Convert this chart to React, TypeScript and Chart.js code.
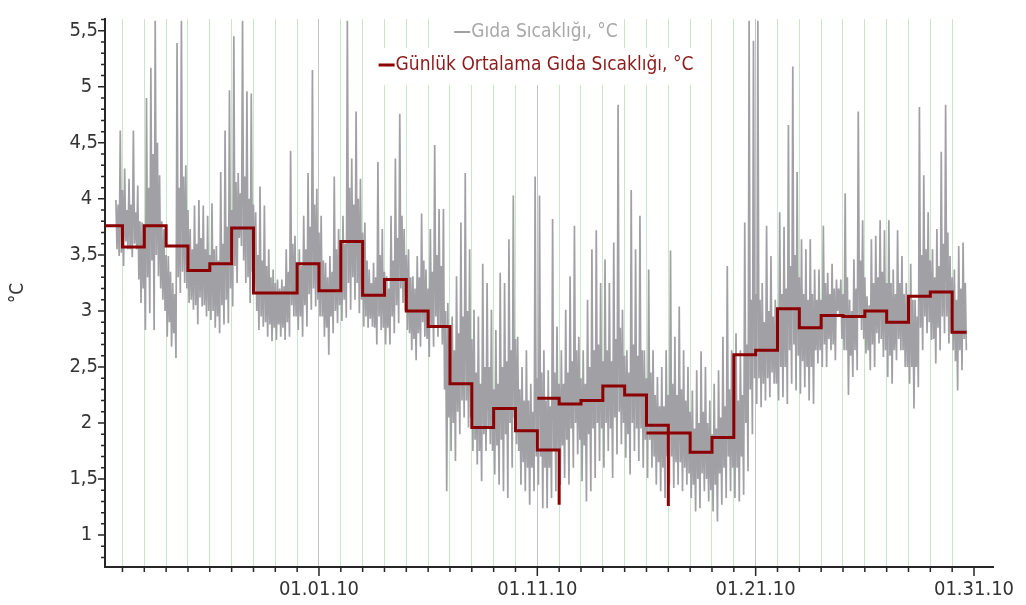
import { useEffect, useRef } from "react";
import { Chart, registerables } from "chart.js";

Chart.register(...registerables);

// ---- data ----
// x values are days counted from 01.01.10 (0 = Jan 1)
const labeledDays = [0, 10, 20, 30];
const labeledDayTexts = ["01.01.10", "01.11.10", "01.21.10", "01.31.10"];

// raw food temperature samples, one every 0.05 day starting at grayStartDay
// (each row of four: spike high, band low, band high, dip low)
const grayStartDay = -9.3;
const grayStepDays = 0.05;
const grayValues = [
  3.99, 3.55, 3.95, 3.49,  4.61, 3.52, 4.08, 3.40,  4.27, 3.62, 3.90, 3.55,  4.18, 3.55, 3.95, 3.48,
  4.61, 3.60, 3.88, 3.55,  4.12, 3.28, 3.80, 3.07,  3.79, 3.20, 3.60, 2.83,  4.90, 3.30, 4.10, 2.98,
  5.17, 3.45, 4.40, 2.83,  5.59, 3.50, 4.50, 3.31,  4.21, 3.20, 3.80, 3.10,  3.73, 3.00, 3.50, 2.77,
  3.49, 2.90, 3.35, 2.68,  3.25, 2.80, 3.15, 2.58,  5.39, 3.30, 4.10, 3.16,  5.59, 3.35, 4.20, 3.25,
  4.30, 3.20, 3.90, 3.07,  3.73, 3.10, 3.55, 3.01,  3.94, 3.05, 3.60, 2.88,  3.99, 3.12, 3.65, 3.04,
  3.94, 3.05, 3.55, 2.95,  3.85, 3.00, 3.50, 2.92,  3.96, 3.00, 3.55, 2.85,  3.58, 2.95, 3.45, 2.80,
  4.24, 3.05, 3.60, 2.88,  4.61, 3.10, 3.75, 2.89,  4.97, 3.20, 3.90, 3.04,  5.45, 3.40, 4.15, 3.25,
  4.23, 3.65, 4.05, 3.58,  5.59, 3.45, 4.20, 3.25,  4.96, 3.30, 4.00, 3.07,  4.94, 3.35, 3.95, 3.16,
  3.88, 3.00, 3.50, 2.83,  4.11, 2.95, 3.45, 2.86,  3.94, 2.90, 3.40, 2.77,  3.55, 2.88, 3.30, 2.73,
  3.37, 2.85, 3.25, 2.74,  3.28, 2.88, 3.20, 2.77,  3.28, 2.85, 3.22, 2.74,  3.55, 2.90, 3.35, 2.77,
  4.43, 3.05, 3.60, 2.95,  3.67, 2.95, 3.40, 2.83,  3.55, 2.95, 3.40, 2.77,  3.85, 3.05, 3.55, 2.86,
  4.23, 3.15, 3.75, 3.01,  5.15, 3.20, 3.95, 3.04,  4.09, 3.10, 3.70, 2.95,  3.85, 2.95, 3.45, 2.77,
  3.43, 2.85, 3.30, 2.61,  3.49, 2.95, 3.35, 2.80,  4.20, 3.00, 3.55, 2.89,  3.73, 3.05, 3.50, 2.91,
  3.85, 3.10, 3.60, 2.94,  5.59, 3.25, 4.10, 3.01,  4.36, 3.30, 3.95, 3.10,  4.78, 3.25, 4.00, 2.98,
  4.18, 3.10, 3.70, 2.86,  3.79, 2.95, 3.45, 2.85,  3.37, 2.93, 3.25, 2.86,  3.43, 2.85, 3.30, 2.70,
  4.33, 2.95, 3.50, 2.83,  3.73, 2.85, 3.35, 2.70,  3.31, 2.85, 3.20, 2.70,  3.85, 2.95, 3.45, 2.80,
  4.36, 3.05, 3.65, 2.89,  4.76, 3.20, 3.85, 3.07,  3.73, 3.00, 3.50, 2.83,  3.55, 2.80, 3.30, 2.65,
  3.31, 2.75, 3.20, 2.56,  3.49, 2.80, 3.30, 2.68,  3.87, 2.90, 3.45, 2.77,  3.37, 2.75, 3.20, 2.59,
  3.73, 2.85, 3.35, 2.68,  4.48, 2.95, 3.50, 2.77,  3.91, 2.85, 3.40, 2.70,  3.91, 2.30, 3.00, 1.39,
  3.07, 2.05, 2.75, 1.75,  2.95, 2.00, 2.65, 1.66,  3.31, 2.10, 2.80, 1.90,  3.79, 2.20, 2.95, 2.05,
  4.23, 2.20, 3.00, 1.96,  3.55, 2.05, 2.75, 1.75,  3.01, 1.85, 2.45, 1.63,  2.95, 1.75, 2.35, 1.48,
  3.42, 1.90, 2.50, 1.75,  3.25, 1.95, 2.50, 1.81,  3.01, 1.75, 2.30, 1.54,  2.83, 1.80, 2.35, 1.45,
  3.34, 1.85, 2.50, 1.39,  3.25, 1.90, 2.55, 1.33,  3.64, 2.00, 2.65, 1.60,  4.03, 2.05, 2.75, 1.81,
  2.77, 1.75, 2.30, 1.45,  2.50, 1.65, 2.20, 1.39,  2.65, 1.60, 2.20, 1.27,  2.35, 1.60, 2.10, 1.39,
  4.20, 1.70, 2.40, 1.45,  4.03, 1.70, 2.45, 1.24,  2.65, 1.60, 2.20, 1.24,  2.47, 1.60, 2.15, 1.33,
  3.82, 1.75, 2.45, 1.39,  2.86, 1.75, 2.35, 1.45,  2.65, 1.80, 2.35, 1.51,  3.01, 1.85, 2.45, 1.45,
  3.31, 1.95, 2.55, 1.60,  3.76, 2.00, 2.65, 1.72,  2.77, 1.85, 2.40, 1.48,  2.65, 1.80, 2.35, 1.30,
  3.10, 1.90, 2.50, 1.39,  3.55, 1.95, 2.65, 1.51,  3.72, 2.00, 2.70, 1.66,  3.25, 1.95, 2.55, 1.60,
  3.46, 2.00, 2.65, 1.75,  3.25, 1.95, 2.55, 1.51,  3.61, 2.05, 2.75, 1.72,  4.84, 2.10, 2.85, 1.81,
  3.01, 2.00, 2.60, 1.69,  2.65, 1.90, 2.45, 1.54,  4.08, 2.00, 2.70, 1.75,  3.55, 1.95, 2.60, 1.66,
  3.85, 1.95, 2.65, 1.60,  2.65, 1.85, 2.40, 1.51,  3.37, 1.85, 2.45, 1.60,  2.65, 1.70, 2.25, 1.45,
  2.41, 1.65, 2.15, 1.39,  2.50, 1.60, 2.15, 1.33,  2.65, 1.70, 2.25, 1.45,  3.54, 1.70, 2.35, 1.42,
  2.77, 1.65, 2.25, 1.45,  3.04, 1.65, 2.30, 1.39,  2.65, 1.60, 2.20, 1.45,  2.50, 1.55, 2.10, 1.33,
  2.29, 1.45, 1.95, 1.21,  2.47, 1.50, 2.00, 1.24,  2.64, 1.55, 2.10, 1.39,  2.50, 1.50, 2.00, 1.30,
  2.20, 1.40, 1.90, 1.21,  2.35, 1.45, 1.95, 1.12,  2.47, 1.55, 2.05, 1.27,  2.77, 1.60, 2.15, 1.33,
  3.40, 1.70, 2.30, 1.39,  2.65, 1.60, 2.15, 1.33,  2.80, 1.60, 2.20, 1.30,  2.65, 1.70, 2.25, 1.36,
  3.79, 2.00, 2.70, 1.57,  5.59, 2.30, 3.10, 1.90,  5.41, 2.40, 3.15, 2.17,  5.59, 2.40, 3.10, 2.14,
  3.25, 2.35, 2.90, 2.20,  3.76, 2.40, 3.00, 2.23,  3.49, 2.45, 2.95, 2.35,  3.10, 2.35, 2.85, 2.20,
  3.88, 2.50, 3.15, 2.23,  3.75, 2.50, 3.20, 2.17,  4.66, 2.65, 3.40, 2.35,  5.18, 2.70, 3.50, 2.29,
  4.24, 2.60, 3.30, 2.26,  3.64, 2.55, 3.15, 2.32,  3.55, 2.50, 3.10, 2.20,  3.64, 2.50, 3.15, 2.17,
  3.37, 2.65, 3.10, 2.53,  3.37, 2.65, 3.10, 2.50,  3.76, 2.70, 3.25, 2.50,  3.34, 2.75, 3.15, 2.65,
  3.42, 2.70, 3.20, 2.56,  3.28, 3.00, 3.20, 2.95,  3.28, 2.75, 3.15, 2.65,  4.05, 2.65, 3.30, 2.25,
  3.10, 2.60, 3.00, 2.41,  3.46, 2.65, 3.20, 2.47,  4.78, 2.95, 3.45, 2.83,  3.81, 2.75, 3.30, 2.62,
  3.13, 2.65, 3.05, 2.47,  3.64, 2.70, 3.25, 2.50,  3.67, 2.80, 3.30, 2.71,  3.81, 2.75, 3.35, 2.59,
  3.72, 2.65, 3.25, 2.41,  3.81, 2.60, 3.25, 2.35,  3.37, 2.65, 3.15, 2.56,  3.72, 2.75, 3.25, 2.65,
  3.49, 2.65, 3.15, 2.50,  3.25, 2.50, 3.00, 2.35,  3.42, 2.50, 3.10, 2.13,  3.10, 2.50, 2.95, 2.32,
  4.82, 2.85, 3.50, 2.65,  4.21, 2.95, 3.55, 2.80,  3.88, 2.90, 3.45, 2.74,  3.55, 2.75, 3.30, 2.53,
  3.73, 2.85, 3.40, 2.65,  4.42, 2.95, 3.60, 2.80,  4.84, 2.95, 3.70, 2.71,  3.49, 2.80, 3.30, 2.65,
  3.37, 2.55, 3.10, 2.29,  3.58, 2.65, 3.20, 2.47,  3.61, 2.75, 3.25, 2.65,
];

// daily averages (stepped); null marks a break in the line
const avgDays = [
  -10, -9, -8, -7, -6, -5, -4, -3, -2, -1, 0, 1, 2, 3, 4, 5, 6, 7, 8, 9, 10, 11,
  11,
  10, 11, 12, 13, 14, 15, 16,
  16,
  15, 16, 17, 18, 19, 20, 21, 22, 23, 24, 25, 26, 27, 28, 29, 29.66,
];
const avgValues = [
  3.76, 3.57, 3.76, 3.58, 3.36, 3.42, 3.74, 3.16, 3.16, 3.42, 3.18, 3.62, 3.14, 3.28, 3.0, 2.86, 2.35, 1.96, 2.13, 1.93, 1.76, 1.27,
  null,
  2.22, 2.17, 2.2, 2.33, 2.25, 1.98, 1.26,
  null,
  1.91, 1.91, 1.74, 1.87, 2.61, 2.65, 3.02, 2.85, 2.96, 2.95, 3.0, 2.9, 3.13, 3.17, 2.81, 2.81,
];

const seriesNames = ["Gıda Sıcaklığı, °C", "Günlük Ortalama Gıda Sıcaklığı, °C"];
const yAxisTitle = "°C";

const FONT = "'DejaVu Sans Condensed', 'DejaVu Sans', sans-serif";
const GRAY = "#a0a0a5";
const RED = "#8b0000";

const isWhole = (v: number) => Math.abs(v - Math.round(v)) < 1e-6;
const isHalf = (v: number) => Math.abs(v * 2 - Math.round(v * 2)) < 1e-6;
const isLabeledDay = (v: number) => isWhole(v) && labeledDays.indexOf(Math.round(v)) >= 0;

const axisTicksPlugin = {
  id: "axisTicks",
  afterDraw(chart: any) {
    const { ctx, chartArea, scales } = chart;
    const xs = scales.x;
    const ys = scales.y;
    ctx.save();
    ctx.strokeStyle = "#262626";
    ctx.lineWidth = 1.5;
    ctx.beginPath();
    xs.ticks.forEach((t: any) => {
      const px = xs.getPixelForValue(t.value);
      const len = isLabeledDay(t.value) ? 9 : 5;
      ctx.moveTo(px, chartArea.bottom);
      ctx.lineTo(px, chartArea.bottom + len);
    });
    ys.ticks.forEach((t: any) => {
      const py = ys.getPixelForValue(t.value);
      const len = isHalf(t.value) ? 7 : 4;
      ctx.moveTo(chartArea.left - len, py);
      ctx.lineTo(chartArea.left, py);
    });
    ctx.stroke();
    ctx.restore();
  },
};

const legendPlugin = {
  id: "boxLegend",
  beforeDatasetsDraw(chart: any) {
    const { ctx } = chart;
    const cx = 536;
    const rows = [
      { text: seriesNames[0], color: GRAY, textColor: "#a8a8a8", lw: 2, y: 32, top: 15, h: 33 },
      { text: seriesNames[1], color: RED, textColor: "#8b1a1a", lw: 3, y: 65, top: 48, h: 37 },
    ];
    ctx.save();
    ctx.font = `19px ${FONT}`;
    ctx.textBaseline = "middle";
    rows.forEach((r) => {
      const dash = 16;
      const tw = ctx.measureText(r.text).width;
      const total = dash + 1 + tw;
      const x0 = cx - total / 2;
      ctx.fillStyle = "#ffffff";
      ctx.fillRect(x0 - 6, r.top, total + 12, r.h);
      ctx.strokeStyle = r.color;
      ctx.lineWidth = r.lw;
      ctx.beginPath();
      ctx.moveTo(x0, r.y);
      ctx.lineTo(x0 + dash, r.y);
      ctx.stroke();
      ctx.fillStyle = r.textColor;
      ctx.textAlign = "left";
      ctx.fillText(r.text, x0 + dash + 1, r.y);
    });
    ctx.restore();
  },
};

export default function App() {
  const ref = useRef<HTMLCanvasElement | null>(null);

  useEffect(() => {
    if (!ref.current) return;
    Chart.defaults.font.family = FONT;

    const grayPoints = grayValues.map((v, i) => ({ x: grayStartDay + i * grayStepDays, y: v }));
    const avgPoints = avgDays.map((d, i) => ({ x: d, y: avgValues[i] }));

    const chart = new Chart(ref.current, {
      type: "line",
      data: {
        datasets: [
          {
            label: seriesNames[1],
            data: avgPoints as any,
            borderColor: RED,
            borderWidth: 3,
            pointRadius: 0,
            stepped: "before",
            spanGaps: false,
            order: 0,
          },
          {
            label: seriesNames[0],
            data: grayPoints,
            borderColor: GRAY,
            borderWidth: 1.7,
            pointRadius: 0,
            tension: 0,
            borderJoinStyle: "miter",
            order: 1,
          },
        ],
      },
      options: {
        animation: false,
        responsive: false,
        events: [],
        layout: { padding: { left: 0, right: 33, top: 5, bottom: 0 } },
        plugins: { legend: { display: false }, tooltip: { enabled: false } },
        scales: {
          x: {
            type: "linear",
            min: -9.8,
            max: 30.87,
            border: { display: true, color: "#262626", width: 2 },
            grid: {
              drawTicks: false,
              lineWidth: 1,
              color: (c: any) => {
                const v = c.tick ? c.tick.value : 0;
                if (v > 29.7) return "rgba(0,0,0,0)";
                return isLabeledDay(v) ? "#c4c4c4" : "#c8e6c8";
              },
            },
            ticks: {
              stepSize: 1,
              autoSkip: false,
              includeBounds: false,
              maxRotation: 0,
              padding: 11,
              color: "#333333",
              font: { size: 20, family: FONT },
              callback: (v: any) => {
                const n = Number(v);
                if (!isWhole(n)) return "";
                const i = labeledDays.indexOf(Math.round(n));
                return i >= 0 ? labeledDayTexts[i] : "";
              },
            },
            afterFit: (s: any) => {
              s.height = 38;
            },
          },
          y: {
            type: "linear",
            min: 0.715,
            max: 5.605,
            border: { display: true, color: "#262626", width: 2 },
            grid: { drawOnChartArea: false, drawTicks: false },
            title: {
              display: true,
              text: yAxisTitle,
              color: "#333333",
              font: { size: 19, family: FONT },
              padding: { top: 7, bottom: 0 },
            },
            ticks: {
              stepSize: 0.1,
              autoSkip: false,
              includeBounds: false,
              padding: 7,
              color: "#333333",
              font: { size: 20, family: FONT },
              callback: (v: any) => {
                const n = Number(v);
                if (!isHalf(n)) return "";
                return isWhole(n) ? String(Math.round(n)) + " " : n.toFixed(1).replace(".", ",");
              },
            },
            afterFit: (s: any) => {
              s.width = 105;
            },
          },
        },
      },
      plugins: [axisTicksPlugin, legendPlugin],
    });

    return () => chart.destroy();
  }, []);

  return (
    <div style={{ position: "fixed", left: 0, top: 0, width: 1026, height: 605, background: "#ffffff" }}>
      <canvas ref={ref} width={1026} height={605} style={{ width: 1026, height: 605, display: "block" }} />
    </div>
  );
}
